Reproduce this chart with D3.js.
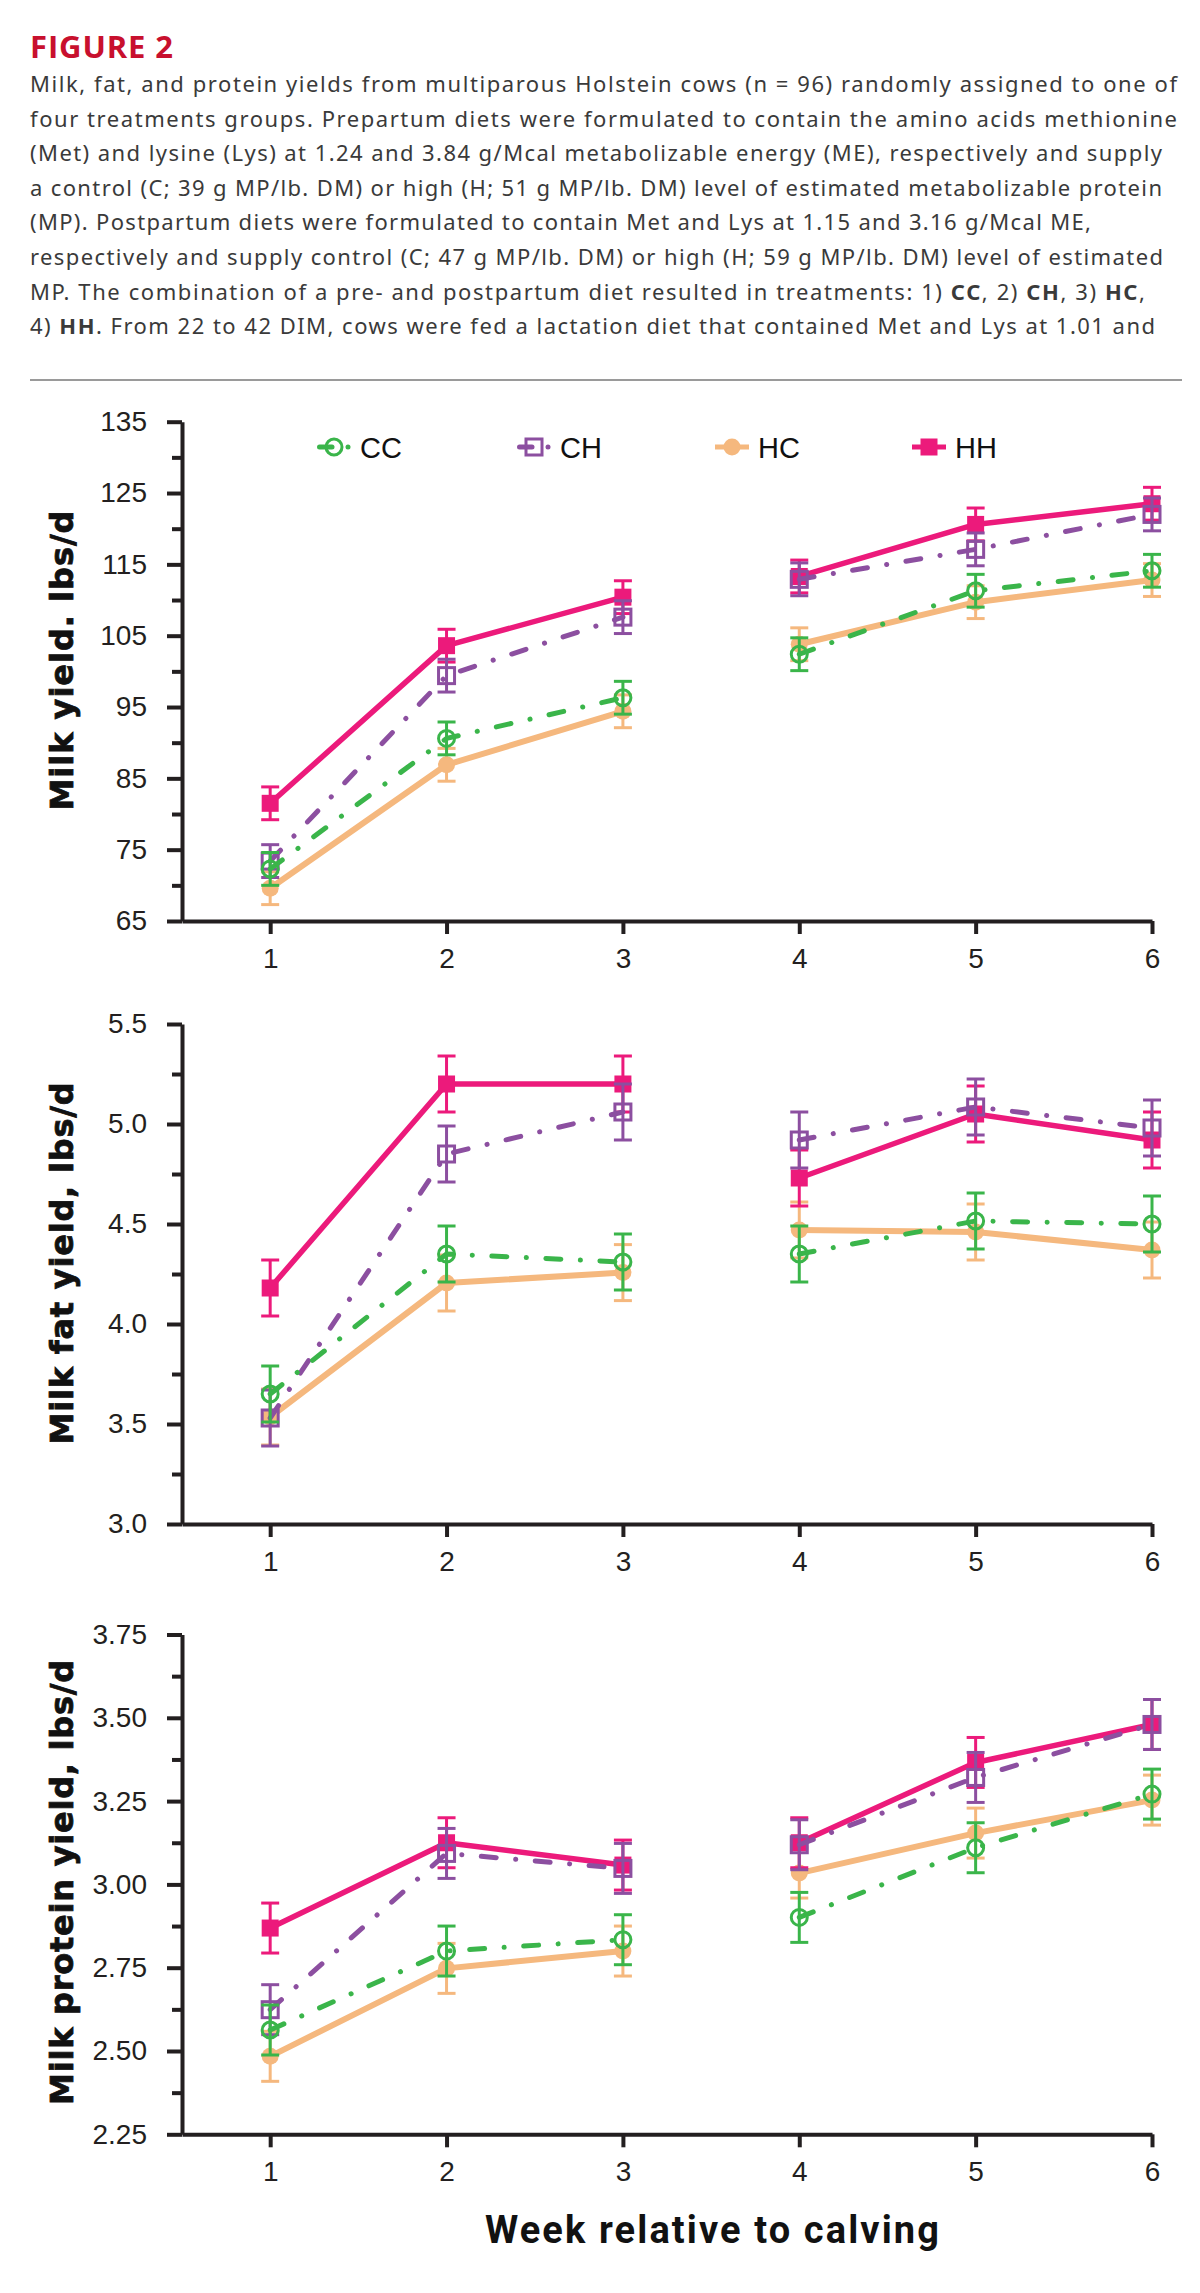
<!DOCTYPE html>
<html><head><meta charset="utf-8">
<script src="https://cdn.jsdelivr.net/npm/d3@7"></script>
<style>body{margin:0;background:#fff} svg{display:block}</style>
</head><body>
<svg id="c" width="1200" height="2293"></svg>
<script>
// ---------- DATA ----------
const weeks = [1, 2, 3, 4, 5, 6];
const groups = ["CC", "CH", "HC", "HH"];

const milkCC = [72.3, 90.6, 96.3, 102.4, 111.3, 114.1];
const milkCH = [73.4, 99.4, 107.6, 112.9, 117.1, 122.0];
const milkHC = [69.6, 86.9, 94.4, 103.8, 109.7, 112.8];
const milkHH = [81.5, 103.6, 110.4, 113.3, 120.6, 123.5];
const milkSE = 2.3;

const fatCC = [3.65, 4.35, 4.31, 4.35, 4.515, 4.50];
const fatCH = [3.53, 4.85, 5.06, 4.92, 5.085, 4.98];
const fatHC = [3.535, 4.205, 4.257, 4.47, 4.46, 4.37];
const fatHH = [4.18, 5.20, 5.20, 4.73, 5.05, 4.92];
const fatSE = 0.14;

const protCC = [2.563, 2.80, 2.834, 2.901, 3.11, 3.271];
const protCH = [2.624, 3.093, 3.048, 3.119, 3.321, 3.48];
const protHC = [2.484, 2.748, 2.80, 3.034, 3.154, 3.253];
const protHH = [2.869, 3.125, 3.058, 3.125, 3.366, 3.48];
const protSE = 0.075;

const milkTicks = [65, 75, 85, 95, 105, 115, 125, 135];
const milkMinor = [70, 80, 90, 100, 110, 120, 130];
const fatTicks = [3.0, 3.5, 4.0, 4.5, 5.0, 5.5];
const fatMinor = [3.25, 3.75, 4.25, 4.75, 5.25];
const protTicks = [2.25, 2.50, 2.75, 3.00, 3.25, 3.50, 3.75];
const protMinor = [2.375, 2.625, 2.875, 3.125, 3.375, 3.625];

const titleText = "FIGURE 2";
const captionLines = [
  [["Milk, fat, and protein yields from multiparous Holstein cows (n = 96) randomly assigned to one of", 0]],
  [["four treatments groups. Prepartum diets were formulated to contain the amino acids methionine", 0]],
  [["(Met) and lysine (Lys) at 1.24 and 3.84 g/Mcal metabolizable energy (ME), respectively and supply", 0]],
  [["a control (C; 39 g MP/lb. DM) or high (H; 51 g MP/lb. DM) level of estimated metabolizable protein", 0]],
  [["(MP). Postpartum diets were formulated to contain Met and Lys at 1.15 and 3.16 g/Mcal ME,", 0]],
  [["respectively and supply control (C; 47 g MP/lb. DM) or high (H; 59 g MP/lb. DM) level of estimated", 0]],
  [["MP. The combination of a pre- and postpartum diet resulted in treatments: 1) ", 0], ["CC", 1], [", 2) ", 0], ["CH", 1], [", 3) ", 0], ["HC", 1], [",", 0]],
  [["4) ", 0], ["HH", 1], [". From 22 to 42 DIM, cows were fed a lactation diet that contained Met and Lys at 1.01 and", 0]]
];
const xTitle = "Week relative to calving";

// ---------- LAYOUT / STYLE ----------
const svg = d3.select("#c");
svg.append("rect").attr("width", 1200).attr("height", 2293).attr("fill", "#fff");

const ink = "#231f20";
const tickFont = "'Liberation Sans', Arial, sans-serif";
const styles = {
  CC: {color: "#3ab54a", dash: "15 19.5 0.1 19.5", width: 5, marker: "circleOpen"},
  CH: {color: "#8c4fa0", dash: "15 19.5 0.1 19.5", width: 5, marker: "squareOpen"},
  HC: {color: "#f5b87e", dash: null, width: 6, marker: "circleFilled"},
  HH: {color: "#ec1a7b", dash: null, width: 5.5, marker: "squareFilled"}
};
const drawOrder = ["HC", "HH", "CH", "CC"];

function fitText(sel, target) {
  const node = sel.node();
  const n = node.getNumberOfChars();
  const w = node.getComputedTextLength();
  if (n > 1) sel.attr("letter-spacing", ((target - w) / (n - 1)).toFixed(3));
}

// Title
const t = svg.append("text").attr("x", 30).attr("y", 58)
  .attr("font-family", "'Open Sans', 'Noto Sans', sans-serif").attr("font-weight", 700)
  .attr("font-size", 31).attr("fill", "#c8102e").text(titleText);
fitText(t, 143);

// Caption
const capRight = [1177, 1177, 1162, 1162, 1091, 1163, 1145, 1155];
captionLines.forEach((segs, i) => {
  const tx = svg.append("text").attr("x", 30).attr("y", 92 + i * 34.6)
    .attr("font-family", "'Noto Sans', 'Open Sans', sans-serif").attr("font-size", 22)
    .attr("fill", "#3a3a3a");
  segs.forEach(([s, b]) => {
    tx.append("tspan").attr("font-weight", b ? 700 : 400).text(s);
  });
  fitText(tx, capRight[i] - 30);
});

svg.append("line").attr("x1", 30).attr("x2", 1182).attr("y1", 380).attr("y2", 380)
  .attr("stroke", "#9a9a9a").attr("stroke-width", 2);

const x = d3.scaleLinear().domain([0.5, 6]).range([182, 1152]);

function drawMarker(g, type, cx, cy, color) {
  if (type === "circleOpen") {
    g.append("circle").attr("cx", cx).attr("cy", cy).attr("r", 8)
      .attr("fill", "none").attr("stroke", color).attr("stroke-width", 3);
  } else if (type === "circleFilled") {
    g.append("circle").attr("cx", cx).attr("cy", cy).attr("r", 8.5).attr("fill", color);
  } else if (type === "squareOpen") {
    g.append("rect").attr("x", cx - 8).attr("y", cy - 8).attr("width", 16).attr("height", 16)
      .attr("fill", "none").attr("stroke", color).attr("stroke-width", 3);
  } else {
    g.append("rect").attr("x", cx - 8.5).attr("y", cy - 8.5).attr("width", 17).attr("height", 17)
      .attr("fill", color);
  }
}

function panel(cfg) {
  const y = d3.scaleLinear().domain([cfg.ticks[0], cfg.ticks[cfg.ticks.length - 1]])
    .range([cfg.bottom, cfg.top]);
  const g = svg.append("g");

  g.append("g").attr("transform", "translate(182,0)")
    .call(d3.axisLeft(y).tickValues(cfg.minor).tickSize(10).tickFormat(""))
    .call(s => s.select(".domain").remove())
    .call(s => s.selectAll("line").attr("stroke", ink).attr("stroke-width", 4));

  g.append("g").attr("transform", "translate(182,0)")
    .call(d3.axisLeft(y).tickValues(cfg.ticks).tickSize(15).tickSizeOuter(0).tickPadding(20).tickFormat(cfg.fmt))
    .call(s => s.select(".domain").attr("stroke", ink).attr("stroke-width", 4))
    .call(s => s.selectAll("line").attr("stroke", ink).attr("stroke-width", 4))
    .call(s => s.selectAll("text").attr("font-family", tickFont).attr("font-size", 28).attr("fill", ink));

  g.append("g").attr("transform", `translate(0,${cfg.bottom})`)
    .call(d3.axisBottom(x).tickValues(weeks).tickSize(13).tickSizeOuter(0).tickPadding(14).tickFormat(d3.format("d")))
    .call(s => s.select(".domain").attr("stroke", ink).attr("stroke-width", 4))
    .call(s => s.selectAll("line").attr("stroke", ink).attr("stroke-width", 4))
    .call(s => s.selectAll("text").attr("font-family", tickFont).attr("font-size", 28).attr("fill", ink));

  const yl = g.append("text").attr("transform", `translate(73,${cfg.labelY}) rotate(-90)`)
    .attr("text-anchor", "middle").attr("font-family", "'DejaVu Sans', Verdana, sans-serif")
    .attr("font-weight", 700).attr("font-size", 32).attr("fill", "#111")
    .attr("stroke", "#111").attr("stroke-width", 0.8).text(cfg.label);
  fitText(yl, cfg.labelLen);

  drawOrder.forEach(k => {
    const st = styles[k];
    const vals = cfg.data[k];
    const sg = g.append("g");
    vals.forEach((v, i) => {
      const cx = x(weeks[i]);
      const y1 = y(v - cfg.se), y2 = y(v + cfg.se);
      sg.append("line").attr("x1", cx).attr("x2", cx).attr("y1", y1).attr("y2", y2)
        .attr("stroke", st.color).attr("stroke-width", 3);
      [y1, y2].forEach(yy => sg.append("line").attr("x1", cx - 9).attr("x2", cx + 9)
        .attr("y1", yy).attr("y2", yy).attr("stroke", st.color).attr("stroke-width", 3));
    });
    const line = d3.line().x(d => x(d[0])).y(d => y(d[1]));
    [[0, 3], [3, 6]].forEach(([a, b]) => {
      const pts = weeks.slice(a, b).map((w, j) => [w, vals[a + j]]);
      sg.append("path").attr("d", line(pts)).attr("fill", "none")
        .attr("stroke", st.color).attr("stroke-width", st.width)
        .attr("stroke-linecap", st.dash ? "round" : "butt")
        .attr("stroke-linejoin", "round")
        .attr("stroke-dasharray", st.dash);
    });
    vals.forEach((v, i) => drawMarker(sg, st.marker, x(weeks[i]), y(v), st.color));
  });
  return g;
}

panel({top: 421.7, bottom: 921, ticks: milkTicks, minor: milkMinor, fmt: d3.format("d"),
  label: "Milk yield. lbs/d", labelY: 660, labelLen: 300, se: milkSE,
  data: {CC: milkCC, CH: milkCH, HC: milkHC, HH: milkHH}});
panel({top: 1024, bottom: 1524, ticks: fatTicks, minor: fatMinor, fmt: d3.format(".1f"),
  label: "Milk fat yield, lbs/d", labelY: 1263, labelLen: 362, se: fatSE,
  data: {CC: fatCC, CH: fatCH, HC: fatHC, HH: fatHH}});
panel({top: 1634.5, bottom: 2134.3, ticks: protTicks, minor: protMinor, fmt: d3.format(".2f"),
  label: "Milk protein yield, lbs/d", labelY: 1882, labelLen: 445, se: protSE,
  data: {CC: protCC, CH: protCH, HC: protHC, HH: protHH}});

// legend
const legX = [317, 517, 715, 912];
const legY = 447;
groups.forEach((k, i) => {
  const st = styles[k];
  const x0 = legX[i];
  const lg = svg.append("g");
  if (st.dash) {
    lg.append("line").attr("x1", x0 + 2.5).attr("x2", x0 + 15).attr("y1", legY).attr("y2", legY)
      .attr("stroke", st.color).attr("stroke-width", 5).attr("stroke-linecap", "round");
    lg.append("circle").attr("cx", x0 + 31).attr("cy", legY).attr("r", 2.5).attr("fill", st.color);
  } else {
    lg.append("line").attr("x1", x0).attr("x2", x0 + 34).attr("y1", legY).attr("y2", legY)
      .attr("stroke", st.color).attr("stroke-width", 5);
  }
  drawMarker(lg, st.marker, x0 + 17, legY, st.color);
  lg.append("text").attr("x", x0 + 43).attr("y", legY + 10.5)
    .attr("font-family", tickFont).attr("font-size", 29).attr("fill", "#111").text(k);
});

// x title
const xt = svg.append("text").attr("x", 713).attr("y", 2243).attr("text-anchor", "middle")
  .attr("font-family", "Roboto, 'Open Sans', sans-serif").attr("font-weight", 700)
  .attr("font-size", 38).attr("fill", "#111").text(xTitle);
fitText(xt, 454);
</script>
</body></html>
